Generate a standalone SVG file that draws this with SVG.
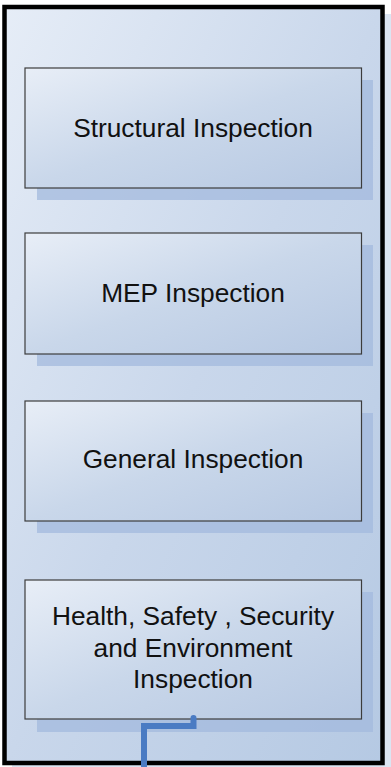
<svg xmlns="http://www.w3.org/2000/svg" width="391" height="767" viewBox="0 0 391 767">
<defs>
<linearGradient id="gFrame" x1="0" y1="0" x2="1" y2="1">
<stop offset="0" stop-color="#e6edf7"/>
<stop offset="0.5" stop-color="#c9d7eb"/>
<stop offset="1" stop-color="#b5c9e3"/>
</linearGradient>
<linearGradient id="gBox" x1="0" y1="0" x2="1" y2="1">
<stop offset="0" stop-color="#e8eef7"/>
<stop offset="0.5" stop-color="#c9d7ea"/>
<stop offset="1" stop-color="#b6c8e2"/>
</linearGradient>
<style>
.shadow{fill:#a3badd;opacity:0.75}
.box{fill:url(#gBox);stroke:#3c3c3c;stroke-width:1.2}
.lbl{font-family:"Liberation Sans",Arial,sans-serif;font-size:26.3px;fill:#111;text-anchor:middle}
.conn{fill:none;stroke:#4a7bc3;stroke-width:6;stroke-linecap:round;stroke-linejoin:miter}
</style>
</defs>
<rect x="0" y="0" width="391" height="767" fill="#ffffff"/>
<rect x="12" y="14" width="379" height="753" fill="#dbe5f2"/>
<g id="frame">
<rect x="4.5" y="7" width="378" height="756" fill="url(#gFrame)" stroke="#000" stroke-width="4.5"/>
</g>
<g id="node1">
<rect class="shadow" x="37" y="80" width="336" height="120"/>
<rect class="box" x="25" y="68" width="336.5" height="120"/>
<text class="lbl" x="193" y="137">Structural Inspection</text>
</g>
<g id="node2">
<rect class="shadow" x="37" y="245" width="336" height="121"/>
<rect class="box" x="25" y="233" width="336.5" height="121"/>
<text class="lbl" x="193" y="302">MEP Inspection</text>
</g>
<g id="node3">
<rect class="shadow" x="37" y="413" width="336" height="120"/>
<rect class="box" x="25" y="401" width="336.5" height="120"/>
<text class="lbl" x="193" y="468">General Inspection</text>
</g>
<g id="node4">
<rect class="shadow" x="37" y="592" width="336" height="140"/>
<rect class="box" x="25" y="580" width="336.5" height="139"/>
<text class="lbl" x="193" y="625">Health, Safety , Security</text>
<text class="lbl" x="193" y="657">and Environment</text>
<text class="lbl" x="193" y="688">Inspection</text>
</g>
<g id="connectors">
<path class="conn" d="M193.5 718 L193.5 726 L144 726 L144 770"/>
</g>
</svg>
